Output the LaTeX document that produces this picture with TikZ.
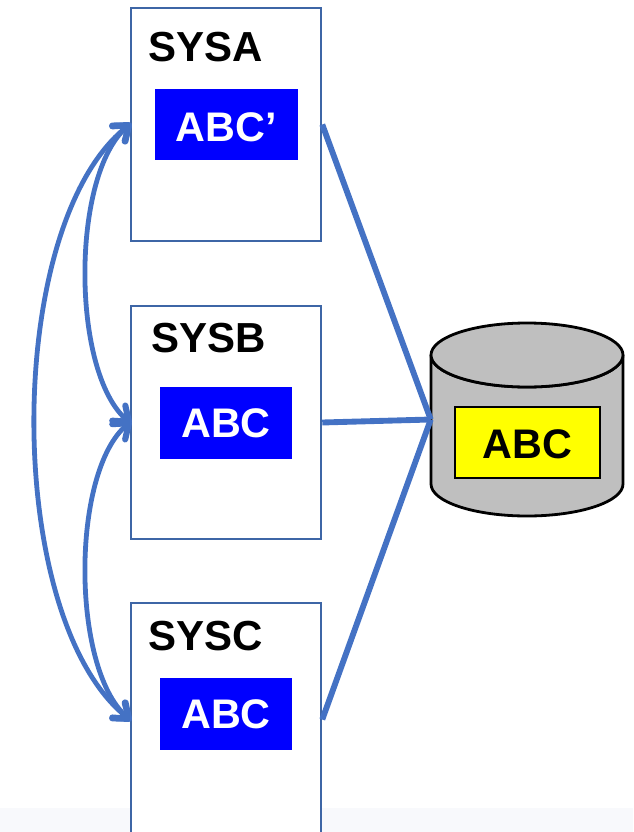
\documentclass[tikz,border=0pt]{standalone}
\usepackage{fontspec}
\setmainfont{Liberation Sans}
\usetikzlibrary{arrows.meta}
\definecolor{conn}{HTML}{4472C4}
\definecolor{boxedge}{HTML}{3E66A6}
\definecolor{bandfill}{HTML}{F8F9FC}
\definecolor{dbgray}{HTML}{BFBFBF}
\definecolor{storefill}{RGB}{255,255,0}
\tikzset{
  x=0.75pt,y=-0.75pt,
  sysbox/.style={draw=boxedge,line width=1.9pt,fill=white,minimum width=142.5pt,minimum height=174.75pt,inner sep=0pt},
  chip/.style={fill=blue,text=white,font=\bfseries\fontsize{31}{31}\selectfont,inner sep=0pt,minimum height=53.5pt},
  title/.style={font=\bfseries\fontsize{31.5}{31.5}\selectfont,text=black,inner sep=0pt},
  curvelink/.style={draw=conn,line width=3.6pt,shorten >=-1.5pt,shorten <=-1.5pt,{Straight Barb[length=10pt,width=15pt,line width=4.6pt,round]}-{Straight Barb[length=10pt,width=15pt,line width=4.6pt,round]}},
  feed/.style={draw=conn,line width=4.4pt},
  dbshape/.style={draw=black,line width=2.1pt,fill=dbgray},
}
\begin{document}
\begin{tikzpicture}
\useasboundingbox (0,0) rectangle (633,832);
\begin{scope}
\clip (0,0) rectangle (633,832);
\fill[bandfill] (0,808) rectangle (633,832);
\node[sysbox] (sysa) at (226,124.5) {};
\node[sysbox] (sysb) at (226,422.5) {};
\node[sysbox] (sysc) at (226,719.5) {};
\end{scope}
\node[title] (ta) at (205.7,47.5) {SYSA};
\node[title] (tb) at (208.7,338) {SYSB};
\node[title] (tc) at (205.7,636) {SYSC};
\node[chip,minimum width=107.25pt,text height=25pt,text depth=0pt] (ca) at (226.5,124.5) {ABC’};
\node[chip,minimum width=99pt] (cb) at (226,423) {ABC};
\node[chip,minimum width=99pt] (cc) at (226,714) {ABC};
% cylinder
\path[dbshape] (431,355) -- (431,484) arc[start angle=180,end angle=0,x radius=96,y radius=32] -- (623,355) arc[start angle=0,end angle=180,x radius=96,y radius=32] -- cycle;
\path[dbshape] (527,355) ellipse[x radius=96,y radius=32];
\node[minimum width=144pt,minimum height=144.75pt,inner sep=0pt] (db) at (527,419.5) {};
\node[draw=black,line width=2.1pt,fill=storefill,minimum width=108.75pt,minimum height=53.25pt,inner sep=0pt,font=\bfseries\fontsize{31}{31}\selectfont,text height=24pt,text depth=0pt] (store) at (527.5,442.5) {ABC};
% connectors
\draw[feed] (sysa.east) -- (db.west);
\draw[feed] (sysb.east) -- (db.west);
\draw[feed] (sysc.east) -- (db.west);
\draw[curvelink] (sysa.west) .. controls (3,225) and (3,618) .. (sysc.west);
\draw[curvelink] (sysa.west) .. controls (71,175) and (71,372) .. (sysb.west);
\draw[curvelink] (sysb.west) .. controls (71,472) and (71,668) .. (sysc.west);
\end{tikzpicture}
\end{document}
